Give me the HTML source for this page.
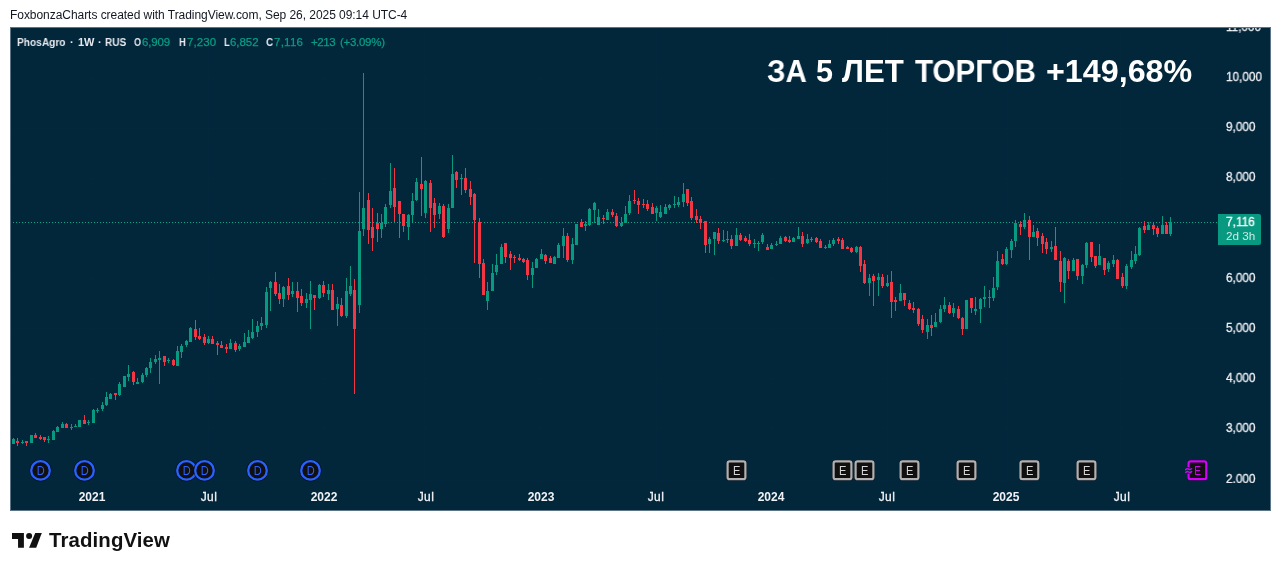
<!DOCTYPE html>
<html lang="en"><head><meta charset="utf-8"><title>PhosAgro chart</title>
<style>
html,body{margin:0;padding:0;background:#fff;}
body{width:1281px;height:571px;position:relative;overflow:hidden;font-family:"Liberation Sans",sans-serif;}
.abs{position:absolute;white-space:nowrap;line-height:1;will-change:transform;}
#hdr{left:10px;top:8.6px;font-size:12px;color:#131722;letter-spacing:-0.05px;}
#chart{position:absolute;left:10px;top:27px;width:1259px;height:482px;background:#02263a;border:1px solid #5b7486;overflow:hidden;}
#chart svg{position:absolute;left:-11px;top:-28px;}
.lg{top:37px;font-size:11px;color:#e6e9ee;font-weight:bold;transform-origin:0 0;}
.lv{top:37px;font-size:11.5px;color:#0a9d85;-webkit-text-stroke:.25px #0a9d85;}
.pl{left:1225.6px;font-size:12.2px;color:#eceef1;transform:scaleX(.965);transform-origin:0 0;-webkit-text-stroke:.3px #eceef1;}
.tl{top:491px;font-size:12px;color:#f0f2f5;transform:translateX(-50%);}
.tn{-webkit-text-stroke:.3px #f0f2f5;letter-spacing:.45px;}
.big{top:56.4px;font-size:30.6px;font-weight:bold;color:#fff;transform-origin:0 0;}
#paxis{position:absolute;left:0;top:28px;width:1281px;height:455px;overflow:hidden;}
#plabel{position:absolute;left:1218px;top:214px;width:43px;height:31px;background:#089981;border-radius:0 2px 2px 0;}
#plabel div{position:absolute;left:8px;white-space:nowrap;line-height:1;font-size:11.5px;}
#logo{left:48.6px;top:530.3px;font-size:20.4px;font-weight:bold;color:#111;letter-spacing:0.12px;}
</style></head><body>

<div id="hdr" class="abs">FoxbonzaCharts created with TradingView.com, Sep 26, 2025 09:14 UTC-4</div>
<div id="chart">
<svg width="1281" height="571" viewBox="0 0 1281 571" shape-rendering="crispEdges"><path d="M11 78.5H1217M11 128.5H1217M11 178.5H1217M11 278.5H1217M11 328.5H1217M11 378.5H1217M11 428.5H1217M11 480.5H1217M92.5 28V483M208.5 28V483M323.5 28V483M425.5 28V483M540.5 28V483M656.5 28V483M771.5 28V483M887.5 28V483M1006.5 28V483M1121.5 28V483" stroke="#03273c" stroke-width="1" fill="none"/><line x1="10" y1="222.5" x2="1218" y2="222.5" stroke="#0aa88c" stroke-width="1" stroke-dasharray="1 2"/><path fill="#089981" d="M13 438h1v6h-1zM12 439h3v5h-3zM22 440h1v4h-1zM21 442h3v1h-3zM31 435h1v8h-1zM30 435h3v8h-3zM48 436h1v7h-1zM47 439h3v1h-3zM53 430h1v10h-1zM52 431h3v9h-3zM57 426h1v6h-1zM56 427h3v5h-3zM62 422h1v6h-1zM61 424h3v4h-3zM71 424h1v6h-1zM70 427h3v1h-3zM75 424h1v3h-1zM74 426h3v1h-3zM79 420h1v7h-1zM78 420h3v7h-3zM88 420h1v5h-1zM87 422h3v1h-3zM93 409h1v14h-1zM92 410h3v13h-3zM97 408h1v5h-1zM96 410h3v1h-3zM102 402h1v9h-1zM101 405h3v4h-3zM106 392h1v14h-1zM105 397h3v8h-3zM110 393h1v6h-1zM109 394h3v5h-3zM119 382h1v14h-1zM118 384h3v11h-3zM124 376h1v11h-1zM123 376h3v11h-3zM128 365h1v16h-1zM127 374h3v3h-3zM137 378h1v6h-1zM136 382h3v2h-3zM142 373h1v10h-1zM141 375h3v7h-3zM146 367h1v10h-1zM145 368h3v7h-3zM150 358h1v15h-1zM149 362h3v6h-3zM155 355h1v9h-1zM154 359h3v3h-3zM159 351h1v33h-1zM158 358h3v2h-3zM168 358h1v5h-1zM167 360h3v1h-3zM177 346h1v20h-1zM176 351h3v15h-3zM181 344h1v14h-1zM180 346h3v6h-3zM186 340h1v7h-1zM185 341h3v4h-3zM190 327h1v15h-1zM189 328h3v14h-3zM208 336h1v8h-1zM207 339h3v4h-3zM230 339h1v10h-1zM229 343h3v6h-3zM239 344h1v7h-1zM238 346h3v3h-3zM244 333h1v14h-1zM243 342h3v5h-3zM248 330h1v13h-1zM247 337h3v6h-3zM252 319h1v20h-1zM251 332h3v6h-3zM257 321h1v16h-1zM256 326h3v6h-3zM261 317h1v13h-1zM260 323h3v3h-3zM266 287h1v41h-1zM265 292h3v33h-3zM270 281h1v30h-1zM269 282h3v6h-3zM283 286h1v21h-1zM282 287h3v12h-3zM292 282h1v15h-1zM291 291h3v3h-3zM306 293h1v15h-1zM305 299h3v4h-3zM310 281h1v48h-1zM309 294h3v6h-3zM319 284h1v15h-1zM318 285h3v13h-3zM328 284h1v16h-1zM327 290h3v4h-3zM337 297h1v29h-1zM336 304h3v5h-3zM346 278h1v40h-1zM345 291h3v25h-3zM350 266h1v30h-1zM349 286h3v8h-3zM359 192h1v121h-1zM358 231h3v74h-3zM363 73h1v163h-1zM362 208h3v21h-3zM381 214h1v24h-1zM380 223h3v6h-3zM385 204h1v23h-1zM384 207h3v17h-3zM390 163h1v45h-1zM389 191h3v14h-3zM408 214h1v26h-1zM407 215h3v12h-3zM412 193h1v29h-1zM411 201h3v14h-3zM416 178h1v23h-1zM415 182h3v18h-3zM425 180h1v38h-1zM424 181h3v32h-3zM439 203h1v16h-1zM438 206h3v8h-3zM448 204h1v29h-1zM447 208h3v21h-3zM452 155h1v53h-1zM451 174h3v34h-3zM461 174h1v21h-1zM460 178h3v1h-3zM487 282h1v28h-1zM486 291h3v10h-3zM492 264h1v27h-1zM491 273h3v18h-3zM496 254h1v21h-1zM495 265h3v7h-3zM501 244h1v20h-1zM500 247h3v17h-3zM532 262h1v26h-1zM531 268h3v7h-3zM536 258h1v10h-1zM535 259h3v9h-3zM541 249h1v10h-1zM540 254h3v5h-3zM554 256h1v8h-1zM553 257h3v7h-3zM558 243h1v15h-1zM557 245h3v13h-3zM563 228h1v30h-1zM562 236h3v10h-3zM572 238h1v26h-1zM571 244h3v16h-3zM576 224h1v21h-1zM575 224h3v21h-3zM585 221h1v10h-1zM584 224h3v2h-3zM589 208h1v18h-1zM588 209h3v16h-3zM594 202h1v21h-1zM593 203h3v7h-3zM598 209h1v16h-1zM597 217h3v8h-3zM607 209h1v11h-1zM606 212h3v8h-3zM621 217h1v10h-1zM620 223h3v3h-3zM625 206h1v17h-1zM624 214h3v9h-3zM629 195h1v20h-1zM628 201h3v12h-3zM656 206h1v15h-1zM655 208h3v5h-3zM660 205h1v13h-1zM659 212h3v5h-3zM665 204h1v10h-1zM664 207h3v7h-3zM669 204h1v6h-1zM668 205h3v3h-3zM674 196h1v12h-1zM673 204h3v1h-3zM678 197h1v10h-1zM677 202h3v3h-3zM683 183h1v24h-1zM682 194h3v8h-3zM709 237h1v16h-1zM708 239h3v5h-3zM714 232h1v23h-1zM713 232h3v7h-3zM723 230h1v12h-1zM722 240h3v1h-3zM727 231h1v12h-1zM726 239h3v1h-3zM736 228h1v18h-1zM735 235h3v11h-3zM754 239h1v9h-1zM753 243h3v1h-3zM758 241h1v10h-1zM757 243h3v1h-3zM762 233h1v11h-1zM761 235h3v7h-3zM771 243h1v6h-1zM770 245h3v4h-3zM776 241h1v5h-1zM775 244h3v1h-3zM780 236h1v8h-1zM779 238h3v6h-3zM793 237h1v5h-1zM792 238h3v4h-3zM798 227h1v12h-1zM797 236h3v3h-3zM807 234h1v10h-1zM806 239h3v4h-3zM825 245h1v4h-1zM824 247h3v1h-3zM829 240h1v8h-1zM828 244h3v4h-3zM833 238h1v8h-1zM832 240h3v4h-3zM856 246h1v7h-1zM855 247h3v5h-3zM869 274h1v22h-1zM868 278h3v5h-3zM878 273h1v23h-1zM877 277h3v3h-3zM887 275h1v12h-1zM886 283h3v3h-3zM900 284h1v17h-1zM899 293h3v8h-3zM927 319h1v20h-1zM926 325h3v7h-3zM935 313h1v14h-1zM934 322h3v5h-3zM940 305h1v18h-1zM939 309h3v13h-3zM944 297h1v15h-1zM943 305h3v4h-3zM953 303h1v14h-1zM952 308h3v5h-3zM966 300h1v29h-1zM965 300h3v29h-3zM975 297h1v18h-1zM974 309h3v2h-3zM980 298h1v25h-1zM979 299h3v10h-3zM984 286h1v21h-1zM983 297h3v2h-3zM989 290h1v18h-1zM988 297h3v1h-3zM993 277h1v24h-1zM992 288h3v10h-3zM997 251h1v39h-1zM996 261h3v26h-3zM1006 247h1v18h-1zM1005 249h3v15h-3zM1011 239h1v19h-1zM1010 241h3v9h-3zM1015 220h1v27h-1zM1014 223h3v18h-3zM1024 213h1v16h-1zM1023 220h3v7h-3zM1033 225h1v12h-1zM1032 232h3v5h-3zM1051 241h1v11h-1zM1050 247h3v2h-3zM1064 257h1v46h-1zM1063 258h3v25h-3zM1073 258h1v13h-1zM1072 260h3v11h-3zM1082 264h1v20h-1zM1081 265h3v11h-3zM1086 242h1v26h-1zM1085 243h3v22h-3zM1099 244h1v21h-1zM1098 256h3v9h-3zM1108 261h1v11h-1zM1107 263h3v6h-3zM1113 255h1v12h-1zM1112 260h3v4h-3zM1126 264h1v25h-1zM1125 266h3v20h-3zM1131 251h1v18h-1zM1130 260h3v7h-3zM1135 246h1v18h-1zM1134 254h3v7h-3zM1139 227h1v29h-1zM1138 228h3v27h-3zM1148 222h1v8h-1zM1147 225h3v5h-3zM1162 216h1v18h-1zM1161 225h3v9h-3zM1170 217h1v19h-1zM1169 222h3v12h-3z"/><path fill="#f23645" d="M17 438h1v8h-1zM16 441h3v2h-3zM26 441h1v5h-1zM25 441h3v2h-3zM35 433h1v5h-1zM34 435h3v3h-3zM40 435h1v5h-1zM39 437h3v2h-3zM44 437h1v5h-1zM43 437h3v3h-3zM66 423h1v5h-1zM65 424h3v4h-3zM84 415h1v9h-1zM83 420h3v4h-3zM115 393h1v7h-1zM114 393h3v2h-3zM133 371h1v14h-1zM132 372h3v10h-3zM164 356h1v10h-1zM163 356h3v6h-3zM173 359h1v7h-1zM172 360h3v5h-3zM195 320h1v20h-1zM194 329h3v8h-3zM199 328h1v12h-1zM198 336h3v3h-3zM204 334h1v11h-1zM203 337h3v6h-3zM212 336h1v8h-1zM211 339h3v5h-3zM217 341h1v14h-1zM216 343h3v2h-3zM221 341h1v7h-1zM220 345h3v3h-3zM226 344h1v9h-1zM225 347h3v2h-3zM235 341h1v11h-1zM234 343h3v7h-3zM275 272h1v24h-1zM274 282h3v12h-3zM279 284h1v20h-1zM278 293h3v6h-3zM288 278h1v22h-1zM287 286h3v9h-3zM297 282h1v30h-1zM296 291h3v7h-3zM301 289h1v17h-1zM300 296h3v7h-3zM314 295h1v15h-1zM313 295h3v3h-3zM323 281h1v16h-1zM322 285h3v8h-3zM332 284h1v26h-1zM331 290h3v20h-3zM341 298h1v19h-1zM340 305h3v11h-3zM354 279h1v115h-1zM353 290h3v39h-3zM368 193h1v51h-1zM367 200h3v30h-3zM372 208h1v43h-1zM371 227h3v11h-3zM377 213h1v29h-1zM376 223h3v6h-3zM394 168h1v54h-1zM393 188h3v19h-3zM399 201h1v37h-1zM398 201h3v13h-3zM403 214h1v18h-1zM402 214h3v12h-3zM421 157h1v59h-1zM420 184h3v5h-3zM430 180h1v52h-1zM429 183h3v25h-3zM434 198h1v30h-1zM433 203h3v12h-3zM443 204h1v34h-1zM442 206h3v31h-3zM456 171h1v17h-1zM455 172h3v8h-3zM465 168h1v25h-1zM464 178h3v12h-3zM470 181h1v24h-1zM469 189h3v8h-3zM474 193h1v70h-1zM473 194h3v26h-3zM479 218h1v60h-1zM478 222h3v42h-3zM483 259h1v36h-1zM482 263h3v32h-3zM505 243h1v20h-1zM504 243h3v14h-3zM510 251h1v19h-1zM509 254h3v4h-3zM514 255h1v8h-1zM513 257h3v1h-3zM519 254h1v7h-1zM518 258h3v2h-3zM523 258h1v5h-1zM522 259h3v3h-3zM527 258h1v22h-1zM526 260h3v15h-3zM545 254h1v10h-1zM544 255h3v6h-3zM550 256h1v7h-1zM549 258h3v5h-3zM567 233h1v29h-1zM566 236h3v24h-3zM581 219h1v8h-1zM580 222h3v5h-3zM603 215h1v9h-1zM602 218h3v1h-3zM612 209h1v8h-1zM611 212h3v3h-3zM616 213h1v14h-1zM615 216h3v10h-3zM634 190h1v14h-1zM633 200h3v1h-3zM638 198h1v16h-1zM637 201h3v4h-3zM643 199h1v9h-1zM642 204h3v1h-3zM647 200h1v11h-1zM646 204h3v5h-3zM652 203h1v11h-1zM651 207h3v7h-3zM687 189h1v17h-1zM686 189h3v14h-3zM691 197h1v23h-1zM690 201h3v17h-3zM696 209h1v14h-1zM695 216h3v4h-3zM700 216h1v13h-1zM699 219h3v4h-3zM705 221h1v32h-1zM704 221h3v24h-3zM718 228h1v16h-1zM717 233h3v8h-3zM731 235h1v14h-1zM730 239h3v7h-3zM740 233h1v8h-1zM739 235h3v5h-3zM745 236h1v6h-1zM744 238h3v3h-3zM749 234h1v12h-1zM748 240h3v4h-3zM767 244h1v6h-1zM766 247h3v3h-3zM785 236h1v6h-1zM784 237h3v4h-3zM789 236h1v7h-1zM788 240h3v2h-3zM802 232h1v15h-1zM801 236h3v8h-3zM811 237h1v5h-1zM810 239h3v1h-3zM816 237h1v6h-1zM815 238h3v4h-3zM820 239h1v9h-1zM819 241h3v7h-3zM838 237h1v7h-1zM837 239h3v2h-3zM842 238h1v11h-1zM841 240h3v9h-3zM847 246h1v3h-1zM846 247h3v2h-3zM851 247h1v6h-1zM850 248h3v4h-3zM860 246h1v26h-1zM859 247h3v19h-3zM864 260h1v24h-1zM863 264h3v19h-3zM873 274h1v32h-1zM872 276h3v5h-3zM882 274h1v14h-1zM881 277h3v9h-3zM891 271h1v47h-1zM890 282h3v20h-3zM895 297h1v14h-1zM894 300h3v2h-3zM904 293h1v13h-1zM903 293h3v7h-3zM909 300h1v10h-1zM908 303h3v6h-3zM913 302h1v11h-1zM912 308h3v2h-3zM918 308h1v18h-1zM917 309h3v15h-3zM922 315h1v18h-1zM921 319h3v11h-3zM931 315h1v21h-1zM930 325h3v3h-3zM949 302h1v12h-1zM948 305h3v8h-3zM958 306h1v13h-1zM957 309h3v9h-3zM962 317h1v18h-1zM961 318h3v11h-3zM971 298h1v15h-1zM970 298h3v10h-3zM1002 254h1v11h-1zM1001 259h3v5h-3zM1020 221h1v14h-1zM1019 224h3v3h-3zM1029 216h1v44h-1zM1028 220h3v17h-3zM1037 228h1v18h-1zM1036 231h3v7h-3zM1042 233h1v20h-1zM1041 236h3v8h-3zM1046 238h1v16h-1zM1045 242h3v7h-3zM1055 227h1v33h-1zM1054 246h3v14h-3zM1060 251h1v41h-1zM1059 261h3v21h-3zM1068 259h1v20h-1zM1067 261h3v10h-3zM1077 259h1v21h-1zM1076 259h3v17h-3zM1091 242h1v20h-1zM1090 242h3v15h-3zM1095 256h1v12h-1zM1094 256h3v10h-3zM1104 258h1v17h-1zM1103 258h3v12h-3zM1117 259h1v20h-1zM1116 260h3v19h-3zM1122 273h1v15h-1zM1121 277h3v9h-3zM1144 221h1v12h-1zM1143 226h3v4h-3zM1153 223h1v12h-1zM1152 225h3v4h-3zM1157 226h1v11h-1zM1156 228h3v6h-3zM1166 222h1v12h-1zM1165 225h3v9h-3z"/></svg>
</div>
<div class="abs lg" style="left:17.4px;transform:scaleX(.924)">PhosAgro</div>
<div class="abs lg" style="left:70.2px;">·</div>
<div class="abs lg" style="left:78.2px;transform:scaleX(.975)">1W</div>
<div class="abs lg" style="left:98.0px;">·</div>
<div class="abs lg" style="left:105.1px;transform:scaleX(.91)">RUS</div>
<div class="abs lg" style="left:134.1px;transform:scaleX(.82)">O</div>
<div class="abs lv" style="left:142.4px;letter-spacing:-0.14px">6,909</div>
<div class="abs lg" style="left:179.0px;transform:scaleX(.85)">H</div>
<div class="abs lv" style="left:187.3px;letter-spacing:0.08px">7,230</div>
<div class="abs lg" style="left:223.9px;transform:scaleX(.85)">L</div>
<div class="abs lv" style="left:230.0px;letter-spacing:-0.06px">6,852</div>
<div class="abs lg" style="left:266.2px;transform:scaleX(.9)">C</div>
<div class="abs lv" style="left:274.3px;letter-spacing:0.25px">7,116</div>
<div class="abs lv" style="left:310.5px;letter-spacing:-0.43px">+213</div>
<div class="abs lv" style="left:339.7px;letter-spacing:-0.285px">(+3.09%)</div>
<div class="abs big" style="left:766.5px;transform:scaleX(0.964)">ЗА</div>
<div class="abs big" style="left:816.3px;transform:scaleX(1.0)">5</div>
<div class="abs big" style="left:842.0px;transform:scaleX(1.02)">ЛЕТ</div>
<div class="abs big" style="left:914.5px;transform:scaleX(0.969)">ТОРГОВ</div>
<div class="abs big" style="left:1045.5px;transform:scaleX(1.055)">+149,68%</div>
<div id="paxis">
<div class="abs pl" style="top:-6.60px">11,000</div>
<div class="abs pl" style="top:43.40px">10,000</div>
<div class="abs pl" style="top:93.40px">9,000</div>
<div class="abs pl" style="top:143.40px">8,000</div>
<div class="abs pl" style="top:244.40px">6,000</div>
<div class="abs pl" style="top:294.40px">5,000</div>
<div class="abs pl" style="top:344.40px">4,000</div>
<div class="abs pl" style="top:394.40px">3,000</div>
<div class="abs pl" style="top:445.40px">2,000</div>
</div>
<div id="plabel"><div style="top:1.9px;color:#fff;font-size:12.2px;transform:scaleX(.975);transform-origin:0 0;-webkit-text-stroke:.3px #fff;will-change:transform">7,116</div><div style="top:15.7px;color:rgba(255,255,255,.8);font-size:11.7px;letter-spacing:0;will-change:transform">2d 3h</div></div>
<div class="abs tl" style="left:92.3px;font-weight:bold;">2021</div>
<div class="abs tl tn" style="left:208.5px;">Jul</div>
<div class="abs tl" style="left:323.6px;font-weight:bold;">2022</div>
<div class="abs tl tn" style="left:425.9px;">Jul</div>
<div class="abs tl" style="left:540.7px;font-weight:bold;">2023</div>
<div class="abs tl tn" style="left:656.3px;">Jul</div>
<div class="abs tl" style="left:771.4px;font-weight:bold;">2024</div>
<div class="abs tl tn" style="left:887.4px;">Jul</div>
<div class="abs tl" style="left:1006.4px;font-weight:bold;">2025</div>
<div class="abs tl tn" style="left:1121.9px;">Jul</div>
<svg class="abs" style="left:0;top:455px" width="1281" height="32" viewBox="0 455 1281 32" font-family="Liberation Sans, sans-serif"><circle cx="40.5" cy="470.4" r="11" fill="#041420"/><circle cx="40.5" cy="470.4" r="9.3" fill="#101010" stroke="#2962ff" stroke-width="2.3"/><text x="40.8" y="475.1" font-size="12.6" text-anchor="middle" textLength="8" lengthAdjust="spacingAndGlyphs" fill="#2962ff">D</text><circle cx="84.5" cy="470.4" r="11" fill="#041420"/><circle cx="84.5" cy="470.4" r="9.3" fill="#101010" stroke="#2962ff" stroke-width="2.3"/><text x="84.8" y="475.1" font-size="12.6" text-anchor="middle" textLength="8" lengthAdjust="spacingAndGlyphs" fill="#2962ff">D</text><circle cx="186.5" cy="470.4" r="11" fill="#041420"/><circle cx="186.5" cy="470.4" r="9.3" fill="#101010" stroke="#2962ff" stroke-width="2.3"/><text x="186.8" y="475.1" font-size="12.6" text-anchor="middle" textLength="8" lengthAdjust="spacingAndGlyphs" fill="#2962ff">D</text><circle cx="204.5" cy="470.4" r="11" fill="#041420"/><circle cx="204.5" cy="470.4" r="9.3" fill="#101010" stroke="#2962ff" stroke-width="2.3"/><text x="204.8" y="475.1" font-size="12.6" text-anchor="middle" textLength="8" lengthAdjust="spacingAndGlyphs" fill="#2962ff">D</text><circle cx="257.5" cy="470.4" r="11" fill="#041420"/><circle cx="257.5" cy="470.4" r="9.3" fill="#101010" stroke="#2962ff" stroke-width="2.3"/><text x="257.8" y="475.1" font-size="12.6" text-anchor="middle" textLength="8" lengthAdjust="spacingAndGlyphs" fill="#2962ff">D</text><circle cx="310.5" cy="470.4" r="11" fill="#041420"/><circle cx="310.5" cy="470.4" r="9.3" fill="#101010" stroke="#2962ff" stroke-width="2.3"/><text x="310.8" y="475.1" font-size="12.6" text-anchor="middle" textLength="8" lengthAdjust="spacingAndGlyphs" fill="#2962ff">D</text><rect x="726.1" y="459.9" width="20.8" height="20.8" rx="3.4" fill="#041420"/><rect x="727.6" y="461.4" width="17.8" height="17.8" rx="2" fill="#101010" stroke="#b2b0b0" stroke-width="2.2"/><text x="736.8" y="475.1" font-size="12.6" text-anchor="middle" textLength="7.4" lengthAdjust="spacingAndGlyphs" fill="#d6d6d6">E</text><rect x="832.1" y="459.9" width="20.8" height="20.8" rx="3.4" fill="#041420"/><rect x="833.6" y="461.4" width="17.8" height="17.8" rx="2" fill="#101010" stroke="#b2b0b0" stroke-width="2.2"/><text x="842.8" y="475.1" font-size="12.6" text-anchor="middle" textLength="7.4" lengthAdjust="spacingAndGlyphs" fill="#d6d6d6">E</text><rect x="854.1" y="459.9" width="20.8" height="20.8" rx="3.4" fill="#041420"/><rect x="855.6" y="461.4" width="17.8" height="17.8" rx="2" fill="#101010" stroke="#b2b0b0" stroke-width="2.2"/><text x="864.8" y="475.1" font-size="12.6" text-anchor="middle" textLength="7.4" lengthAdjust="spacingAndGlyphs" fill="#d6d6d6">E</text><rect x="899.1" y="459.9" width="20.8" height="20.8" rx="3.4" fill="#041420"/><rect x="900.6" y="461.4" width="17.8" height="17.8" rx="2" fill="#101010" stroke="#b2b0b0" stroke-width="2.2"/><text x="909.8" y="475.1" font-size="12.6" text-anchor="middle" textLength="7.4" lengthAdjust="spacingAndGlyphs" fill="#d6d6d6">E</text><rect x="956.1" y="459.9" width="20.8" height="20.8" rx="3.4" fill="#041420"/><rect x="957.6" y="461.4" width="17.8" height="17.8" rx="2" fill="#101010" stroke="#b2b0b0" stroke-width="2.2"/><text x="966.8" y="475.1" font-size="12.6" text-anchor="middle" textLength="7.4" lengthAdjust="spacingAndGlyphs" fill="#d6d6d6">E</text><rect x="1019.0000000000001" y="459.9" width="20.8" height="20.8" rx="3.4" fill="#041420"/><rect x="1020.5000000000001" y="461.4" width="17.8" height="17.8" rx="2" fill="#101010" stroke="#b2b0b0" stroke-width="2.2"/><text x="1029.7" y="475.1" font-size="12.6" text-anchor="middle" textLength="7.4" lengthAdjust="spacingAndGlyphs" fill="#d6d6d6">E</text><rect x="1076.1" y="459.9" width="20.8" height="20.8" rx="3.4" fill="#041420"/><rect x="1077.6" y="461.4" width="17.8" height="17.8" rx="2" fill="#101010" stroke="#b2b0b0" stroke-width="2.2"/><text x="1086.8" y="475.1" font-size="12.6" text-anchor="middle" textLength="7.4" lengthAdjust="spacingAndGlyphs" fill="#d6d6d6">E</text><rect x="1187.0" y="459.9" width="20.8" height="20.8" rx="3.4" fill="#041420"/><rect x="1188.5" y="461.4" width="17.8" height="17.8" rx="2" fill="#101010" stroke="#d500f9" stroke-width="2.2"/><rect x="1184.4" y="467.1" width="6.6" height="6.8" fill="#02263a"/><path d="M1185.7 469.6q1.5-1.5 2.9-0.5t3-0.4M1185.7 472.5q1.5-1.5 2.9-0.5t3-0.4" fill="none" stroke="#d500f9" stroke-width="1.5" stroke-linecap="round"/><text x="1197.7" y="475.1" font-size="12.6" text-anchor="middle" textLength="6.8" lengthAdjust="spacingAndGlyphs" fill="#d500f9">E</text></svg>
<svg class="abs" style="left:12px;top:533px" width="31" height="15" viewBox="0 0 31 15"><path fill="#111" d="M0 0h11.9v14.8h-5.85v-8.8h-6.05z"/><circle cx="17.1" cy="3.05" r="3" fill="#111"/><path fill="#111" d="M23.2 0h6.6l-5.6 14.8h-7.1z"/></svg>
<div id="logo" class="abs">TradingView</div>
</body></html>
